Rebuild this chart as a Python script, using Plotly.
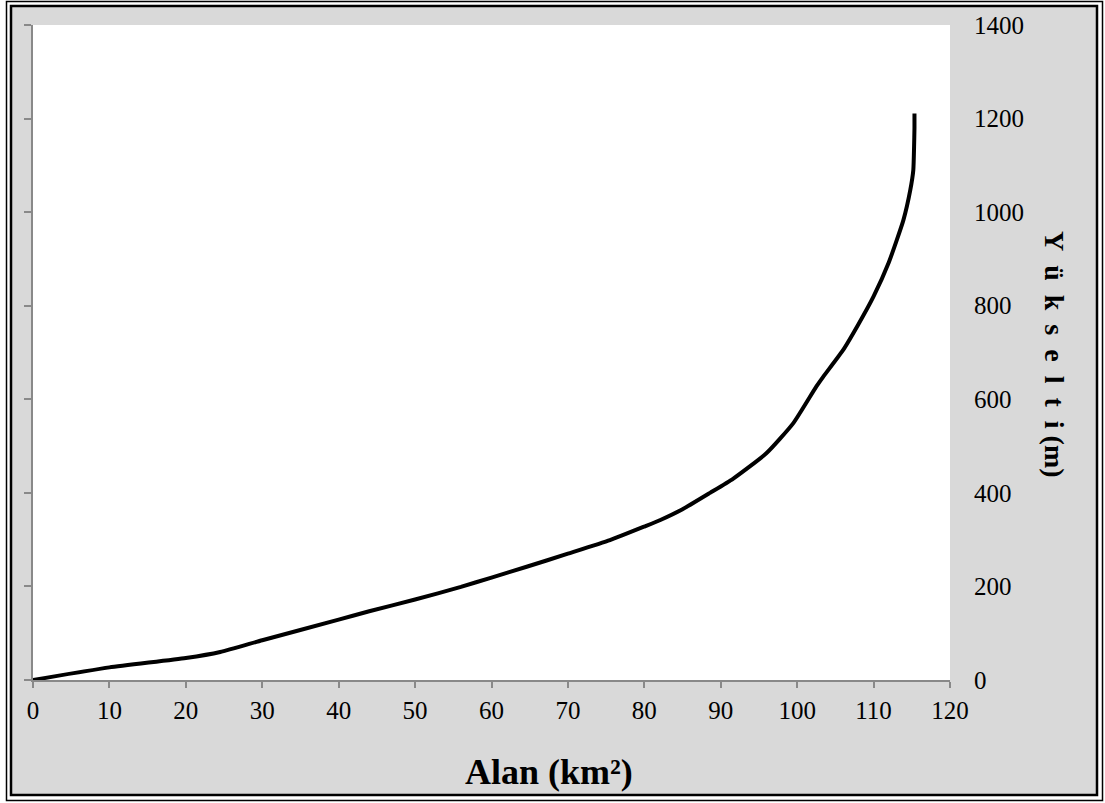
import plotly.graph_objects as go

# Data (hypsometric curve)
area_km2 = [0, 10, 20, 24.5, 30, 40, 44, 50, 56, 60, 64.6, 70, 75.5, 80, 82.1, 85,
            88.6, 91.6, 96, 99.5, 102.5, 103.4, 106, 108, 110, 112, 113.9,
            114.8, 115.2, 115.3, 115.35, 115.35]
elevation_m = [0, 27, 47, 60, 85, 129, 147, 172, 199, 219, 242, 270, 299, 328, 342, 365,
               400, 430, 485, 549, 627, 648, 705, 760, 820, 893, 983,
               1047, 1090, 1140, 1180, 1211]

x_ticks = [0, 10, 20, 30, 40, 50, 60, 70, 80, 90, 100, 110, 120]
y_ticks = [0, 200, 400, 600, 800, 1000, 1200, 1400]

x_title = "Alan (km²)"
y_title = "Y\u00a0\u00a0ü\u00a0\u00a0k\u00a0\u00a0s\u00a0\u00a0e\u00a0\u00a0l\u00a0\u00a0t\u00a0\u00a0i\u00a0(m)"

W, H = 1105, 803
L, R, T, B = 33, 950, 25, 680  # plot area in pixels


def px(xp):
    return (xp - L) / (R - L)


def py(yp):
    return (B - yp) / (B - T)


FONT = "Liberation Serif, Times New Roman, serif"
AXIS_GRAY = "#898989"

fig = go.Figure()
fig.add_trace(go.Scatter(x=area_km2, y=elevation_m, mode="lines",
                         line=dict(color="black", width=4, shape="spline", smoothing=0.5),
                         hoverinfo="skip", showlegend=False))
fig.add_trace(go.Scatter(x=[None], y=[None], yaxis="y2", showlegend=False, hoverinfo="skip"))

shapes = [
    dict(type="rect", xref="paper", yref="paper", layer="below",
         x0=px(11), x1=px(1097), y0=py(6), y1=py(795),
         fillcolor="#d9d9d9", line=dict(color="black", width=2.5)),
    dict(type="rect", xref="paper", yref="paper", layer="below",
         x0=px(6.5), x1=px(1102.5), y0=py(1.5), y1=py(800.5),
         fillcolor="rgba(0,0,0,0)", line=dict(color="black", width=1.5)),
    dict(type="rect", xref="paper", yref="paper", layer="below",
         x0=0, x1=1, y0=0, y1=1, fillcolor="white", line=dict(width=0)),
]

fig.update_layout(
    width=W, height=H, autosize=False,
    margin=dict(l=L, r=W - R, t=T, b=H - B, pad=0),
    paper_bgcolor="white", plot_bgcolor="white",
    font=dict(family=FONT, color="black", size=25),
    shapes=shapes,
    hovermode=False,
    xaxis=dict(range=[0, 120], tickvals=x_ticks, showgrid=False, zeroline=False,
               showline=True, linecolor=AXIS_GRAY, linewidth=2,
               ticks="outside", ticklen=6, tickwidth=2, tickcolor=AXIS_GRAY,
               tickfont=dict(family=FONT, size=25, color="black"),
               ticklabelstandoff=1),
    yaxis=dict(range=[0, 1400], tickvals=y_ticks, showgrid=False, zeroline=False,
               showline=True, linecolor=AXIS_GRAY, linewidth=2,
               ticks="outside", ticklen=7, tickwidth=2, tickcolor=AXIS_GRAY,
               showticklabels=False),
    yaxis2=dict(range=[0, 1400], tickvals=y_ticks, overlaying="y", side="right",
                showgrid=False, zeroline=False, showline=False, ticks="",
                tickfont=dict(family=FONT, size=25, color="black"),
                ticklabelstandoff=23),
    annotations=[
        dict(text=x_title, xref="paper", yref="paper", x=px(549), y=py(772),
             xanchor="center", yanchor="middle", showarrow=False,
             font=dict(family=FONT, size=36, color="black", weight="bold")),
        dict(text=y_title, xref="paper", yref="paper", x=px(1055), y=py(354),
             xanchor="center", yanchor="middle", showarrow=False, textangle=90,
             font=dict(family=FONT, size=28, color="black", weight="bold")),
    ],
)

fig.write_html("out.html", config={"displayModeBar": False},
               post_script="document.body.style.margin='0';document.body.style.overflow='hidden';")
